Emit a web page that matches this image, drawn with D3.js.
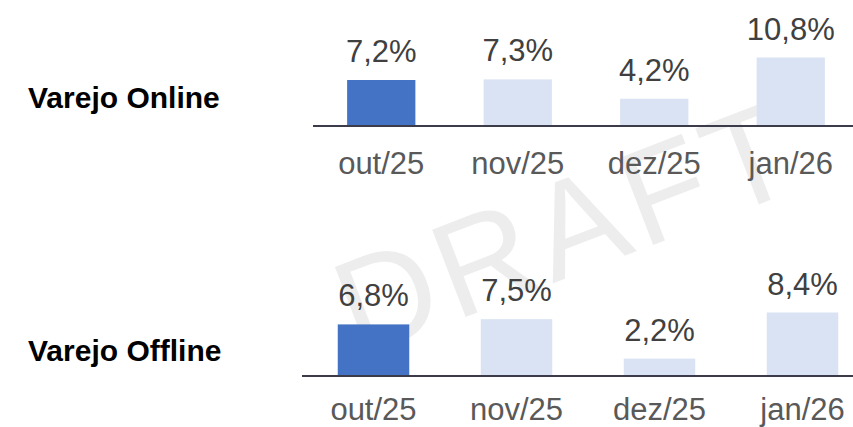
<!DOCTYPE html>
<html>
<head>
<meta charset="utf-8">
<script src="https://cdn.jsdelivr.net/npm/d3@7"></script>
<style>
  html, body { margin: 0; padding: 0; background: #fff; }
  svg { display: block; font-family: "Liberation Sans", Arial, sans-serif; }
</style>
</head>
<body>
<div id="chart"></div>
<script>
// Data
var months = ["out/25", "nov/25", "dez/25", "jan/26"];
var onlineValues = [7.2, 7.3, 4.2, 10.8];
var offlineValues = [6.8, 7.5, 2.2, 8.4];
var rowTitles = ["Varejo Online", "Varejo Offline"];

var width = 853,
    height = 427;

var svg = d3.select("#chart")
    .append("svg")
    .attr("width", width)
    .attr("height", height);

// Watermark behind everything
svg.append("text")
    .attr("transform", "translate(566,226) rotate(-21)")
    .attr("text-anchor", "middle")
    .attr("dy", "0.36em")
    .style("font-size", "136px")
    .style("letter-spacing", "6px")
    .style("fill", "#000")
    .style("fill-opacity", 0.07)
    .text("DRAFT");

var fmt = function(v) { return d3.format(".1f")(v).replace(".", ",") + "%"; };

// one small bar chart per row
function drawPanel(values, title, opts) {
    var g = svg.append("g");

    var x = d3.scaleBand()
        .domain(months)
        .range([opts.x0, opts.x1])
        .paddingInner(0.5)
        .paddingOuter(0.25);

    var y = d3.scaleLinear()
        .domain([0, d3.max(values)])
        .range([opts.base, opts.base - opts.barMax]);

    var rows = months.map(function(m, i) { return { month: m, value: values[i], i: i }; });

    g.selectAll("rect")
        .data(rows)
        .enter()
        .append("rect")
        .attr("x", d => x(d.month))
        .attr("width", x.bandwidth())
        .attr("y", d => y(d.value))
        .attr("height", d => y(0) - y(d.value))
        .attr("fill", d => d.i === 0 ? "#4472c4" : "#dae3f3");

    // baseline
    g.append("line")
        .attr("x1", opts.x0)
        .attr("x2", opts.x1)
        .attr("y1", y(0) + 1)
        .attr("y2", y(0) + 1)
        .attr("stroke", "#3b3b4a")
        .attr("stroke-width", 2);

    // value labels
    g.selectAll(".val")
        .data(rows)
        .enter()
        .append("text")
        .attr("class", "val")
        .attr("x", d => x(d.month) + x.bandwidth() / 2)
        .attr("y", d => y(d.value) - 18)
        .attr("text-anchor", "middle")
        .style("font-size", "31px")
        .style("fill", "#404040")
        .text(d => fmt(d.value));

    // category labels
    g.selectAll(".cat")
        .data(rows)
        .enter()
        .append("text")
        .attr("class", "cat")
        .attr("x", d => x(d.month) + x.bandwidth() / 2)
        .attr("y", y(0) + opts.catGap)
        .attr("text-anchor", "middle")
        .style("font-size", "31px")
        .style("fill", "#595959")
        .text(d => d.month);

    // row title
    g.append("text")
        .attr("x", 28)
        .attr("y", opts.titleY)
        .style("font-size", "30px")
        .style("font-weight", "bold")
        .style("fill", "#000")
        .text(title);
}

drawPanel(onlineValues, rowTitles[0], { x0: 313, x1: 859, base: 125, barMax: 67.5, catGap: 49, titleY: 108 });
drawPanel(offlineValues, rowTitles[1], { x0: 302, x1: 874, base: 375, barMax: 62.5, catGap: 45, titleY: 361 });
</script>
</body>
</html>
